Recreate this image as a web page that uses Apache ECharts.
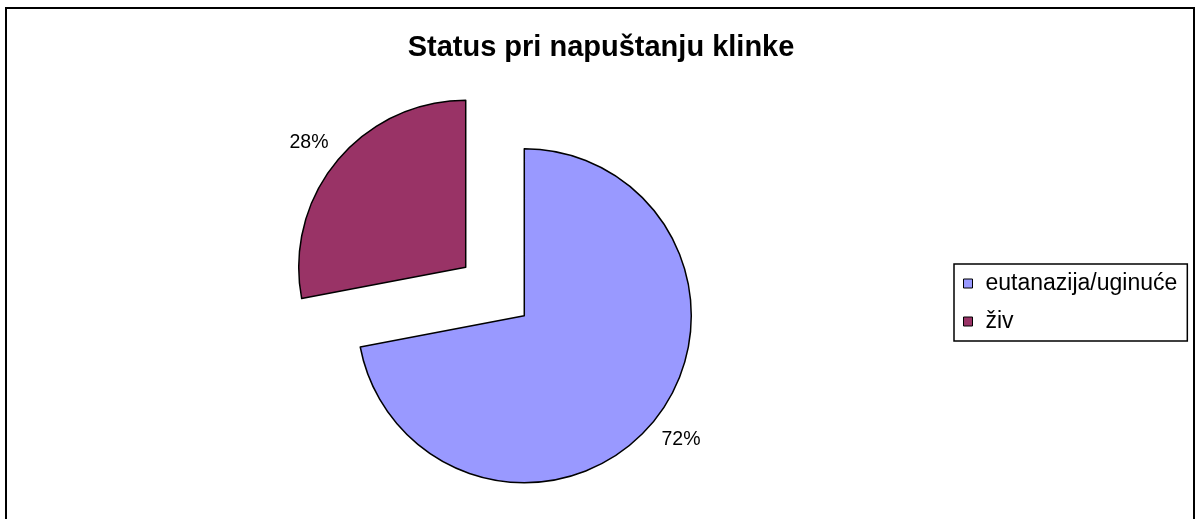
<!DOCTYPE html>
<html>
<head>
<meta charset="utf-8">
<script src="https://cdn.jsdelivr.net/npm/echarts@6/dist/echarts.min.js"></script>
<style>
  html, body { margin: 0; padding: 0; background: #fff; }
  #chart { position: absolute; left: 0; top: 0; width: 1196px; height: 519px; }
  /* okvir grafikona kao u Excelu */
  .frame {
    position: absolute; left: 5px; top: 7px; width: 1190px; height: 530px;
    border: 2px solid #000; box-sizing: border-box; pointer-events: none;
  }
</style>
</head>
<body>
<div id="chart"></div>
<div class="frame"></div>
<script>
const categories = ['eutanazija/uginuće', 'živ']
const values = [72, 28]

const sliceColors = ['#9999FF', '#993366']
const fontFamily = 'Arial, "Liberation Sans", sans-serif'

const chart = echarts.init(document.getElementById('chart'))

const option = {
  animation: false,
  color: sliceColors,
  title: {
    text: 'Status pri napuštanju klinke',
    left: 596,
    textAlign: 'center',
    top: 28,
    textStyle: { fontFamily, fontSize: 29, fontWeight: 'bold', color: '#000' }
  },
  legend: {
    orient: 'vertical',
    left: 954,
    top: 264,
    padding: [8, 10, 8, 9],
    itemGap: 15,
    itemWidth: 9,
    itemHeight: 9,
    icon: 'rect',
    backgroundColor: '#fff',
    borderColor: '#000',
    borderWidth: 1.5,
    borderRadius: 0,
    itemStyle: { borderColor: '#000', borderWidth: 1 },
    textStyle: { fontFamily, fontSize: 23, color: '#000', padding: [0, 0, 0, 8] },
    selectedMode: false,
    data: categories
  },
  series: [
    {
      type: 'pie',
      center: [495, 291.5],
      radius: 167,
      startAngle: 90,
      clockwise: true,
      selectedMode: 'multiple',
      selectedOffset: 38,
      avoidLabelOverlap: false,
      percentPrecision: 0,
      itemStyle: { borderColor: '#000', borderWidth: 1.5 },
      select: { itemStyle: { borderColor: '#000', borderWidth: 1.5 } },
      emphasis: { disabled: true },
      label: {
        show: true,
        position: 'outside',
        formatter: '{d}%',
        fontFamily,
        fontSize: 19.5,
        color: '#000',
        distanceToLabelLine: -13
      },
      labelLine: { show: false, length: 28, length2: 0 },
      data: categories.map((name, i) => ({ name, value: values[i], selected: true }))
    }
  ]
}

chart.setOption(option)
window.addEventListener('resize', () => chart.resize())
</script>
</body>
</html>
